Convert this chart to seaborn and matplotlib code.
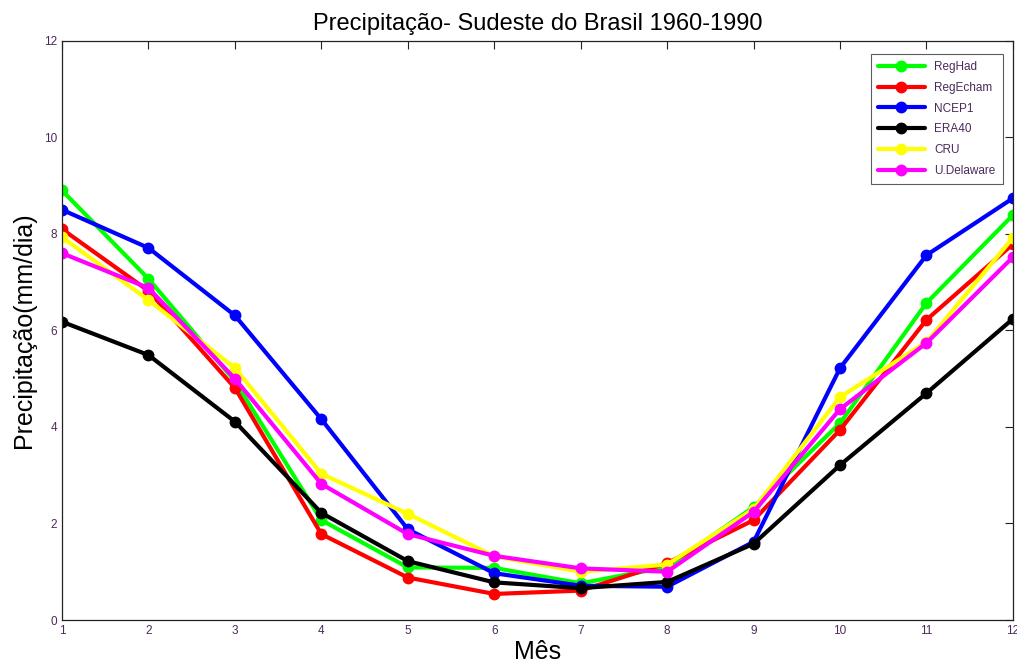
import numpy as np
import pandas as pd
import matplotlib
matplotlib.use("Agg")
import matplotlib.pyplot as plt
import seaborn as sns

months = list(range(1, 13))
series_names = ["RegHad", "RegEcham", "NCEP1", "ERA40", "CRU", "U.Delaware"]
reghad = [8.90, 7.07, 4.95, 2.07, 1.09, 1.08, 0.76, 1.10, 2.34, 4.08, 6.57, 8.39]
regecham = [8.10, 6.82, 4.81, 1.78, 0.88, 0.54, 0.61, 1.18, 2.07, 3.94, 6.22, 7.79]
ncep1 = [8.50, 7.71, 6.31, 4.16, 1.88, 0.97, 0.71, 0.69, 1.62, 5.22, 7.56, 8.74]
era40 = [6.18, 5.49, 4.11, 2.22, 1.22, 0.78, 0.66, 0.79, 1.58, 3.21, 4.70, 6.24]
cru = [7.93, 6.63, 5.22, 3.03, 2.20, 1.32, 1.00, 1.15, 2.30, 4.62, 5.76, 7.92]
udelaware = [7.60, 6.88, 5.00, 2.82, 1.78, 1.33, 1.07, 1.00, 2.24, 4.37, 5.74, 7.52]
colors = ["#00ff00", "#ff0000", "#0000ff", "#000000", "#ffff00", "#ff00ff"]

df = pd.concat([
    pd.DataFrame({"Mês": months, "Precipitação": vals, "Série": name})
    for name, vals in zip(series_names, [reghad, regecham, ncep1, era40, cru, udelaware])
], ignore_index=True)

sns.set_style("white")
plt.rcParams["font.family"] = ["Liberation Sans", "DejaVu Sans"]
plt.rcParams["text.color"] = "black"
plt.rcParams["axes.labelcolor"] = "black"

fig = plt.figure(figsize=(10.17, 6.70), dpi=100)
ax = fig.add_axes([0.061, 0.0746, 0.935, 0.8644])

sns.lineplot(data=df, x="Mês", y="Precipitação", hue="Série", hue_order=series_names,
             palette=colors, marker="o", markersize=7, markeredgewidth=1.5,
             linewidth=3, ax=ax, sort=False)
for line in ax.lines:
    line.set_markeredgecolor(line.get_color())

ax.set_xlim(1, 12)
ax.set_ylim(0, 12)
ax.set_xticks(months)
ax.set_yticks([0, 2, 4, 6, 8, 10, 12])
tick_color = "#4b2a5a"
ax.tick_params(axis="both", direction="in", length=6, width=0.8, labelsize=8.5,
               labelcolor=tick_color, top=True, right=True, color="#222222")
for s in ax.spines.values():
    s.set_color("#222222")
    s.set_linewidth(0.9)
    s.set_visible(True)

ax.set_title("Precipitação- Sudeste do Brasil 1960-1990", fontsize=17, pad=8, color="black")
ax.set_xlabel("Mês", fontsize=18, labelpad=2, color="black")
ax.set_ylabel("Precipitação(mm/dia)", fontsize=18, labelpad=6, color="black")

leg = ax.legend(loc="upper right", fontsize=8.5, frameon=True, fancybox=False,
                edgecolor="#333333", handlelength=4, borderpad=0.6,
                labelspacing=0.75, bbox_to_anchor=(0.9955, 0.988))
leg.get_frame().set_linewidth(0.8)
for h in leg.legend_handles:
    try:
        h.set_markeredgecolor(h.get_color())
    except Exception:
        pass
for t in leg.get_texts():
    t.set_color(tick_color)

fig.savefig("out.png", dpi=100)
